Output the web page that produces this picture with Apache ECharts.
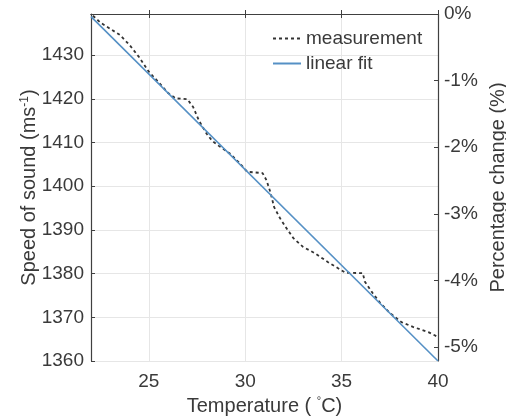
<!DOCTYPE html>
<html>
<head>
<meta charset="utf-8">
<script src="https://cdn.jsdelivr.net/npm/echarts@6/dist/echarts.min.js"></script>
<style>
html,body{margin:0;padding:0;background:#fff;}
#chart{width:506px;height:419px;}
</style>
</head>
<body>
<div id="chart"></div>
<script>
var measTemp = [22.1, 22.5, 23.0, 23.5, 24.0, 24.5, 25.0, 25.5, 26.0, 26.4, 27.0, 27.3, 27.6, 28.0, 28.3, 28.7, 29.2, 29.7, 30.1, 30.9, 31.1, 31.3, 31.5, 31.8, 32.2, 32.5, 33.0, 33.6, 34.3, 34.9, 35.2, 36.1, 36.2, 36.6, 37.0, 37.5, 38.1, 38.7, 39.5, 40.0];
var measSpeed = [1439.0, 1437.4, 1436.0, 1434.6, 1432.3, 1429.5, 1426.2, 1423.8, 1421.3, 1420.1, 1419.9, 1418.1, 1415.0, 1412.0, 1410.3, 1409.0, 1407.5, 1405.3, 1403.3, 1403.0, 1401.4, 1398.7, 1395.2, 1392.7, 1390.0, 1388.1, 1386.1, 1384.7, 1382.6, 1381.0, 1380.2, 1380.1, 1378.2, 1375.6, 1373.3, 1371.0, 1368.9, 1367.8, 1366.6, 1365.5];
// linear fit end points
var fitTemp = [22, 40];
var fitSpeed = [1438.8, 1360.0];

var axisColor = '#404040';
var textColor = '#3a3a3a';
var font = 'Liberation Sans, Arial, sans-serif';

function pairs(xs, ys){
	var out = [];
	for(var i = 0; i < xs.length; i++){
		out.push([xs[i], ys[i]]);
	}
	return out;
}

var chart = echarts.init(document.getElementById('chart'));
var option = {
	animation: false,
	backgroundColor: '#fff',
	textStyle: {fontFamily: font},
	grid: {left: 91, right: 68, top: 14, bottom: 58, containLabel: false, outerBoundsMode: 'none'},
	legend: {
		orient: 'vertical', left: 267, top: 24,
		itemWidth: 28, itemHeight: 14, itemGap: 6,
		itemStyle: {opacity: 0},
		textStyle: {fontSize: 19, color: textColor, fontFamily: font},
		data: ['measurement', 'linear fit']
	},
	xAxis: [{
		type: 'value', min: 22, max: 40, splitNumber: 3,
		name: 'Temperature ( {s|°}C)', nameLocation: 'middle', nameGap: 30,
		nameTextStyle: {fontSize: 20, color: textColor, rich: {s: {fontSize: 11, verticalAlign: 'top', padding: [0, 0, 10, 0], color: textColor}}},
		axisLine: {lineStyle: {color: axisColor, width: 1.2}},
		axisTick: {inside: true, length: 4, lineStyle: {color: axisColor}},
		axisLabel: {fontSize: 19, color: textColor, margin: 11, showMinLabel: false},
		splitLine: {show: true, lineStyle: {color: '#e6e6e6'}}
	}, {
		type: 'value', position: 'top', min: 22, max: 40, splitNumber: 3,
		axisLine: {show: true, lineStyle: {color: axisColor, width: 1.2}},
		axisTick: {inside: true, length: 4, lineStyle: {color: axisColor}},
		axisLabel: {show: false},
		splitLine: {show: false}
	}],
	yAxis: [{
		type: 'value', min: 1360, max: 1439.4, splitNumber: 8,
		name: 'Speed of sound (ms{s|-1})', nameLocation: 'middle', nameGap: 52, nameRotate: 90,
		nameMoveOverlap: false,
		nameTextStyle: {fontSize: 20, color: textColor, rich: {s: {fontSize: 12, verticalAlign: 'top', padding: [0, 0, 8, 0], color: textColor}}},
		axisLine: {show: true, lineStyle: {color: axisColor, width: 1.2}},
		axisTick: {show: true, inside: true, length: 4, lineStyle: {color: axisColor}},
		axisLabel: {fontSize: 19, color: textColor, margin: 7, showMaxLabel: false,
			formatter: function(v){ return String(v); }},
		splitLine: {show: true, lineStyle: {color: '#e6e6e6'}}
	}, {
		type: 'value', position: 'right', min: -5.21, max: 0, splitNumber: 5,
		name: 'Percentage change (%)', nameLocation: 'middle', nameGap: 49, nameRotate: 90,
		nameTextStyle: {fontSize: 20, color: textColor},
		axisLine: {show: true, lineStyle: {color: axisColor, width: 1.2}},
		axisTick: {show: true, inside: true, length: 4, lineStyle: {color: axisColor}},
		axisLabel: {fontSize: 19, color: textColor, margin: 6, showMinLabel: false,
			formatter: function(v){ return v + '%'; }},
		splitLine: {show: false}
	}],
	series: [{
		name: 'measurement', type: 'line', symbol: 'none', smooth: false,
		lineStyle: {color: '#333333', width: 1.8, type: [3, 3]},
		itemStyle: {color: '#333333'},
		data: pairs(measTemp, measSpeed)
	}, {
		name: 'linear fit', type: 'line', symbol: 'none',
		lineStyle: {color: '#5590c5', width: 1.6},
		itemStyle: {color: '#5590c5'},
		data: pairs(fitTemp, fitSpeed)
	}]
};
chart.setOption(option);
</script>
</body>
</html>
